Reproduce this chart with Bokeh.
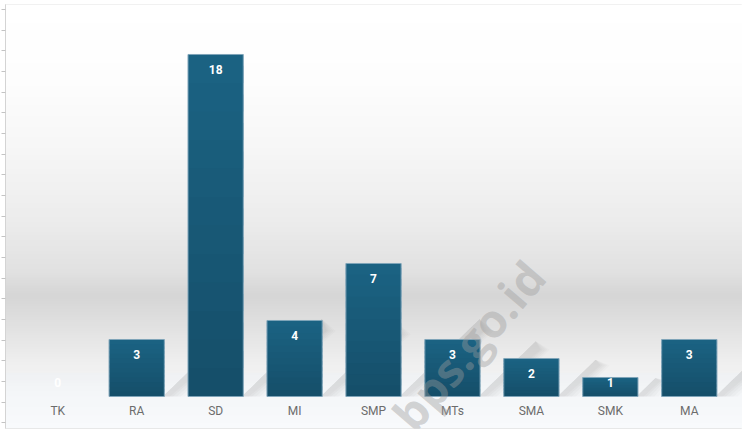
import numpy as np
from bokeh.plotting import figure
from bokeh.models import Range1d, FixedTicker, CustomJSTickFormatter, ColumnDataSource
from bokeh.core.properties import value
from bokeh.embed import file_html
from bokeh.resources import INLINE

# ---- data ----
categories = ["TK", "RA", "SD", "MI", "SMP", "MTs", "SMA", "SMK", "MA"]
counts = [0, 3, 18, 4, 7, 3, 2, 1, 3]
watermark = "bps.go.id"

# ---- style ----
W, H = 742, 430
x_start, x_end = -0.662, 8.674
y_start, y_end = -1.684, 20.63
bar_width = 0.70
bar_top_rgb = (27, 99, 131)
bar_bot_rgb = (21, 78, 105)
# background gradient stops (data-y, gray level)
bg_stops_y = [y_end, 16.6, 12.9, 9.3, 6.6, 5.3, 4.0, 1.9, 0.2, y_start]
bg_stops_g = [255, 253, 246, 236, 225, 213, 223, 238, 247, 251]

p = figure(width=W, height=H, output_backend="svg", toolbar_location=None,
           x_range=Range1d(x_start, x_end), y_range=Range1d(y_start, y_end),
           x_axis_location=None,
           min_border_left=5, min_border_top=4, min_border_right=0, min_border_bottom=2)
p.grid.visible = False
p.outline_line_color = "#e2e2e2"
p.outline_line_width = 1
p.background_fill_color = "white"
p.border_fill_color = "white"

# background gradient as thin overlapping horizontal strips
n = 160
edges = np.linspace(y_start, y_end, n + 1)
step = edges[1] - edges[0]
mids = 0.5 * (edges[:-1] + edges[1:])
gs = np.interp(mids, bg_stops_y[::-1], bg_stops_g[::-1])
cols = []
for m, g in zip(mids, gs):
    gi = int(round(g))
    if m < 1.2:
        cols.append("#%02x%02x%02x" % (max(gi - 3, 0), min(gi - 1, 255), min(gi + 1, 255)))
    else:
        cols.append("#%02x%02x%02x" % (gi, gi, gi))
p.quad(left=x_start, right=x_end, bottom=edges[:-1], top=edges[1:] + step * 0.6,
       fill_color=cols, line_color=None)

xs = np.arange(len(categories))

# soft diagonal shadows to the right of each bar (layered for blur)
unit_ratio = 19.0 / 78.6  # one y unit in x units (45 degrees in pixels)
for x, v in zip(xs, counts):
    if v <= 0:
        continue
    hs = min(v, 4.2)
    xr = x + bar_width / 2
    lean = hs * unit_ratio
    for w, a in [(0.26, 0.025), (0.21, 0.03), (0.16, 0.035), (0.11, 0.04), (0.07, 0.045)]:
        p.patch([xr - 0.02, xr - 0.02 + lean, xr + w * 0.6 + lean, xr + w],
                [0, hs * 0.97, hs * 0.82, 0],
                fill_color="#6a6a6a", fill_alpha=a, line_color=None)

# bars with vertical gradient (overlapping slices)
k = 12
sb, st, sx, sc = [], [], [], []
for x, v in zip(xs, counts):
    if v <= 0:
        continue
    for i in range(k):
        f = (i + 0.5) / k
        r = [int(round(bar_bot_rgb[j] + (bar_top_rgb[j] - bar_bot_rgb[j]) * f)) for j in range(3)]
        sb.append(v * i / k)
        st.append(min(v * (i + 1) / k + v / k * 0.6, v))
        sx.append(x)
        sc.append("#%02x%02x%02x" % tuple(r))
p.vbar(x=sx, bottom=sb, top=st, width=bar_width, fill_color=sc, line_color=None)
nz = [i for i, v in enumerate(counts) if v > 0]
src = ColumnDataSource(dict(x=[xs[i] for i in nz], top=[counts[i] for i in nz]))
p.vbar(x="x", top="top", bottom=0, width=bar_width, source=src,
       fill_color=None, line_color="#7fa4b9", line_width=1)

# value labels
lab_y = [max(v - 0.78, 0.76) for v in counts]
p.text(x=xs, y=lab_y, text=[str(v) for v in counts], text_color="white",
       text_font=value("Roboto"), text_font_style="bold", text_font_size="12px",
       text_align="center", text_baseline="middle")

# category labels (inside the frame, below the baseline)
p.text(x=xs, y=[-0.74] * len(xs), text=categories, text_color="#6c6c6c",
       text_font=value("Roboto"), text_font_size="12px",
       text_align="center", text_baseline="middle")

# watermark
p.text(x=[5.2], y=[2.7], text=[watermark], angle=0.86, text_color="#9c9c9c",
       text_alpha=0.42, text_font=value("Open Sans"), text_font_style="bold",
       text_font_size="46px", text_align="center", text_baseline="middle")

# left axis: tick marks only
p.yaxis.ticker = FixedTicker(ticks=list(np.linspace(-1.384, 20.37, 21)))
p.yaxis.formatter = CustomJSTickFormatter(code="return ''")
p.yaxis.major_label_standoff = 0
p.yaxis.major_label_text_font_size = "1px"
p.yaxis.axis_line_color = "#d4d4d4"
p.yaxis.major_tick_line_color = "#c4c4c4"
p.yaxis.major_tick_out = 4
p.yaxis.major_tick_in = 0
p.yaxis.minor_tick_line_color = None

open("out.html", "w").write(file_html(p, INLINE))
